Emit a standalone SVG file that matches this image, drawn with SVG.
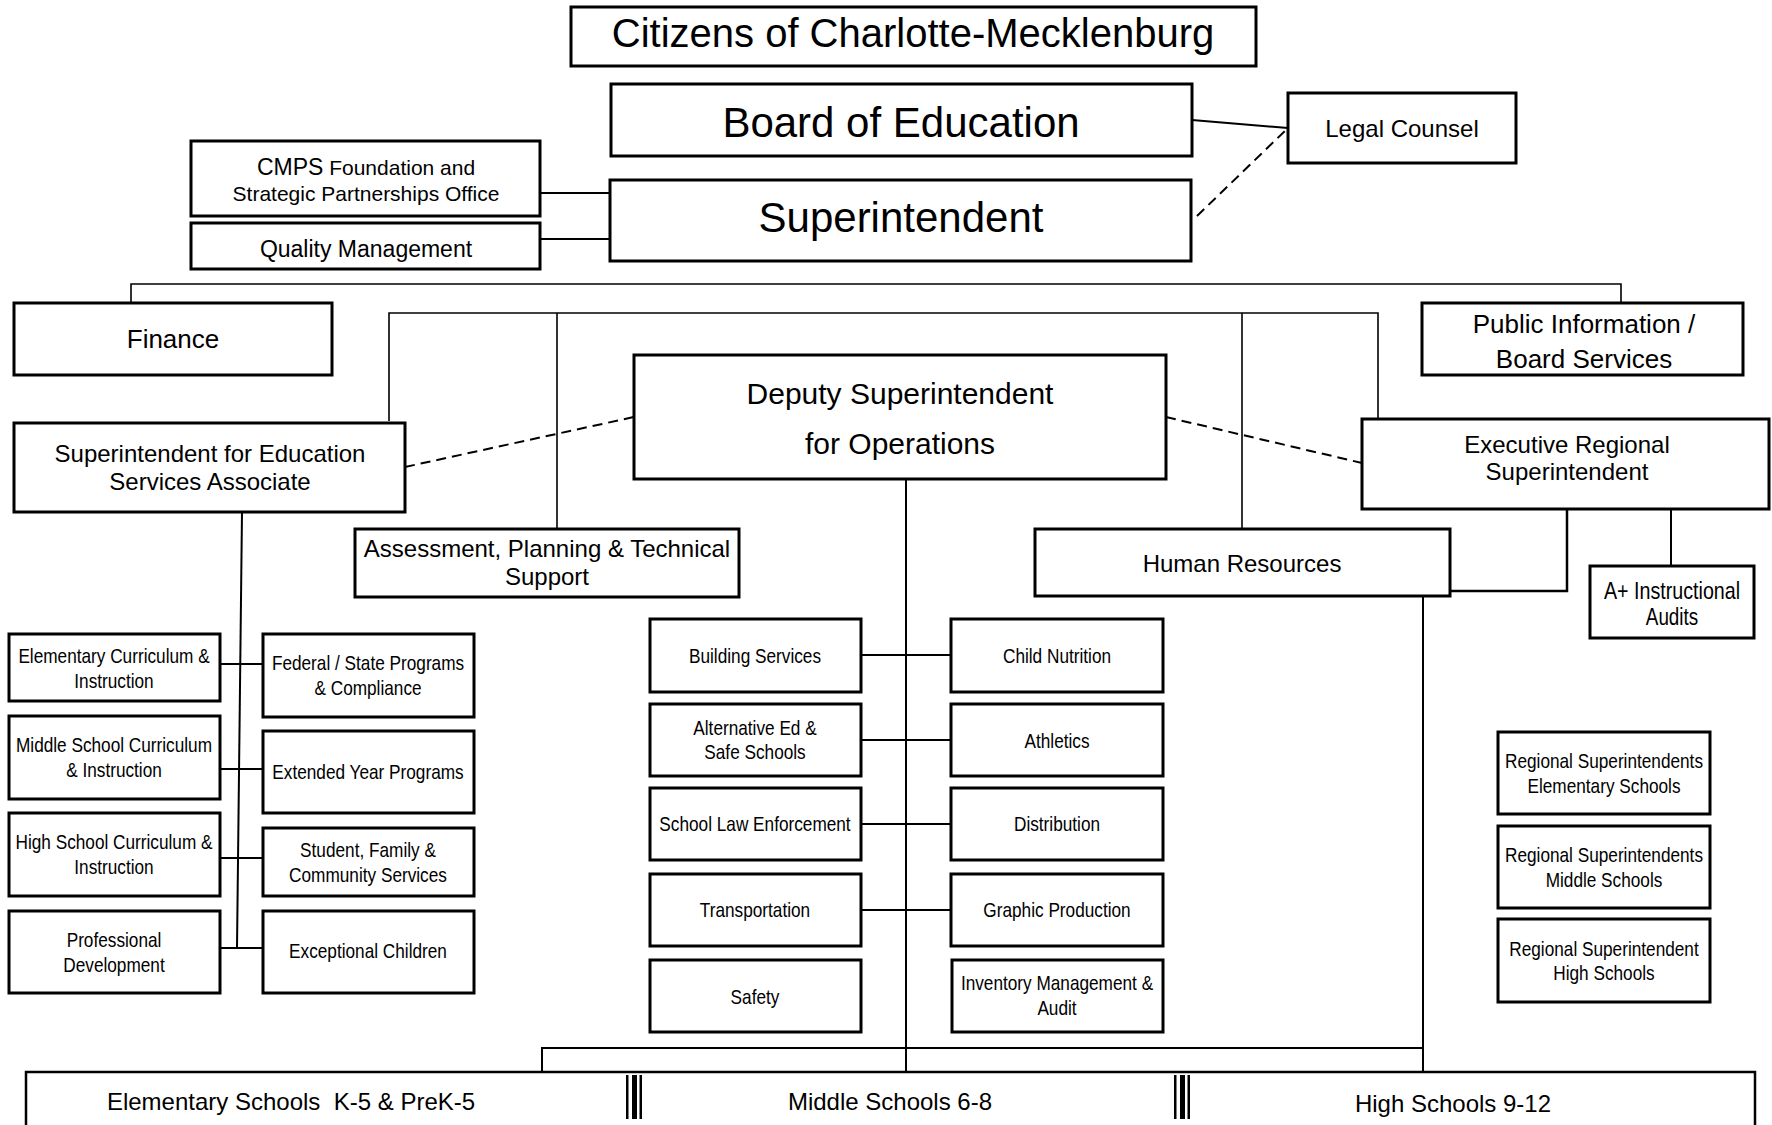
<svg xmlns="http://www.w3.org/2000/svg" width="1772" height="1125" viewBox="0 0 1772 1125">
<style>
.box{fill:#fff;stroke:#000;stroke-width:3}
.ln{stroke:#000;stroke-width:2;fill:none}
.th{stroke-width:1.6}
.dash{stroke-dasharray:10 6}
.t{font-family:"Liberation Sans",Arial,sans-serif;text-anchor:middle;fill:#000}
.n{font-size:21px}
.s24{font-size:24px}
.s26{font-size:26px}
</style>
<rect x="0" y="0" width="1772" height="1125" fill="#fff"/>
<g id="connectors">
<line class="ln" x1="1192" y1="120" x2="1288" y2="128"/>
<line class="ln dash" x1="1197" y1="216" x2="1288" y2="128"/>
<line class="ln" x1="540" y1="193" x2="610" y2="193"/>
<line class="ln" x1="540" y1="239" x2="610" y2="239"/>
<polyline class="ln th" points="131,303 131,284 1621,284 1621,303"/>
<polyline class="ln th" points="389,421 389,313 1378,313 1378,419"/>
<line class="ln th" x1="557" y1="313" x2="557" y2="529"/>
<line class="ln th" x1="1242" y1="313" x2="1242" y2="529"/>
<line class="ln dash" x1="405" y1="467" x2="634" y2="417"/>
<line class="ln dash" x1="1166" y1="417" x2="1362" y2="463"/>
<line class="ln" x1="242" y1="512" x2="237" y2="948"/>
<line class="ln" x1="220" y1="664" x2="263" y2="664"/>
<line class="ln" x1="220" y1="769" x2="263" y2="769"/>
<line class="ln" x1="220" y1="858" x2="263" y2="858"/>
<line class="ln" x1="220" y1="948" x2="263" y2="948"/>
<line class="ln" x1="906" y1="479" x2="906" y2="1075"/>
<line class="ln" x1="861" y1="655" x2="951" y2="655"/>
<line class="ln" x1="861" y1="740" x2="951" y2="740"/>
<line class="ln" x1="861" y1="824" x2="951" y2="824"/>
<line class="ln" x1="861" y1="910" x2="951" y2="910"/>
<polyline class="ln" style="stroke-width:2.5" points="1567,509 1567,591 1450,591"/>
<line class="ln" x1="1671" y1="509" x2="1671" y2="566"/>
<line class="ln" x1="1423" y1="596" x2="1423" y2="1077"/>
<polyline class="ln" points="542,1075 542,1048 1423,1048"/>
</g>
<g id="citizens"><rect class="box" x="571" y="7" width="685" height="59"/><text class="t" x="913" y="47" font-size="40">Citizens of Charlotte-Mecklenburg</text></g>
<g id="board"><rect class="box" x="611" y="84" width="581" height="72"/><text class="t" x="901" y="137" font-size="42">Board of Education</text></g>
<g id="superintendent"><rect class="box" x="610" y="180" width="581" height="81"/><text class="t" x="901" y="232" font-size="42">Superintendent</text></g>
<g id="legal"><rect class="box" x="1288" y="93" width="228" height="70"/><text class="t s24" x="1402" y="137">Legal Counsel</text></g>
<g id="cmps"><rect class="box" x="191" y="141" width="349" height="75"/><text class="t" x="366" y="175" font-size="21"><tspan font-size="23">CMPS</tspan> Foundation and</text><text class="t" x="366" y="201" font-size="21">Strategic Partnerships Office</text></g>
<g id="quality"><rect class="box" x="191" y="223" width="349" height="46"/><text class="t" x="366" y="257" font-size="23">Quality Management</text></g>
<g id="finance"><rect class="box" x="14" y="303" width="318" height="72"/><text class="t s26" x="173" y="348">Finance</text></g>
<g id="public-info"><rect class="box" x="1422" y="303" width="321" height="72"/><text class="t s26" x="1584" y="333">Public Information /</text><text class="t s26" x="1584" y="368">Board Services</text></g>
<g id="deputy"><rect class="box" x="634" y="355" width="532" height="124"/><text class="t" x="900" y="404" font-size="30">Deputy Superintendent</text><text class="t" x="900" y="454" font-size="30">for Operations</text></g>
<g id="sup-ed"><rect class="box" x="14" y="423" width="391" height="89"/><text class="t s24" x="210" y="462">Superintendent for Education</text><text class="t s24" x="210" y="490">Services Associate</text></g>
<g id="assessment"><rect class="box" x="355" y="529" width="384" height="68"/><text class="t s24" x="547" y="557">Assessment, Planning &amp; Technical</text><text class="t s24" x="547" y="585">Support</text></g>
<g id="hr"><rect class="box" x="1035" y="529" width="415" height="67"/><text class="t s24" x="1242" y="572">Human Resources</text></g>
<g id="exec-regional"><rect class="box" x="1362" y="419" width="407" height="90"/><text class="t s24" x="1567" y="453">Executive Regional</text><text class="t s24" x="1567" y="480">Superintendent</text></g>
<g id="aplus"><rect class="box" x="1590" y="566" width="164" height="72"/><text class="t" font-size="24" transform="translate(1672,599) scale(0.82,1)">A+ Instructional</text><text class="t" font-size="23" transform="translate(1672,625) scale(0.82,1)">Audits</text></g>
<g id="elem-ci"><rect class="box" x="9" y="634" width="211" height="67"/><text class="t n" transform="translate(114,663) scale(0.82,1)">Elementary Curriculum &amp;</text><text class="t n" transform="translate(114,688) scale(0.82,1)">Instruction</text></g>
<g id="middle-ci"><rect class="box" x="9" y="716" width="211" height="83"/><text class="t n" transform="translate(114,752) scale(0.82,1)">Middle School Curriculum</text><text class="t n" transform="translate(114,777) scale(0.82,1)">&amp; Instruction</text></g>
<g id="high-ci"><rect class="box" x="9" y="813" width="211" height="83"/><text class="t n" transform="translate(114,849) scale(0.82,1)">High School Curriculum &amp;</text><text class="t n" transform="translate(114,874) scale(0.82,1)">Instruction</text></g>
<g id="prof-dev"><rect class="box" x="9" y="911" width="211" height="82"/><text class="t n" transform="translate(114,947) scale(0.82,1)">Professional</text><text class="t n" transform="translate(114,972) scale(0.82,1)">Development</text></g>
<g id="federal"><rect class="box" x="263" y="634" width="211" height="83"/><text class="t n" transform="translate(368,670) scale(0.82,1)">Federal / State Programs</text><text class="t n" transform="translate(368,695) scale(0.82,1)">&amp; Compliance</text></g>
<g id="extended"><rect class="box" x="263" y="731" width="211" height="82"/><text class="t n" transform="translate(368,779) scale(0.82,1)">Extended Year Programs</text></g>
<g id="student"><rect class="box" x="263" y="828" width="211" height="68"/><text class="t n" transform="translate(368,857) scale(0.82,1)">Student, Family &amp;</text><text class="t n" transform="translate(368,882) scale(0.82,1)">Community Services</text></g>
<g id="exceptional"><rect class="box" x="263" y="911" width="211" height="82"/><text class="t n" transform="translate(368,958) scale(0.82,1)">Exceptional Children</text></g>
<g id="building"><rect class="box" x="650" y="619" width="211" height="73"/><text class="t n" transform="translate(755,663) scale(0.82,1)">Building Services</text></g>
<g id="alternative"><rect class="box" x="650" y="704" width="211" height="72"/><text class="t n" transform="translate(755,735) scale(0.82,1)">Alternative Ed &amp;</text><text class="t n" transform="translate(755,759) scale(0.82,1)">Safe Schools</text></g>
<g id="law"><rect class="box" x="650" y="788" width="211" height="72"/><text class="t n" transform="translate(755,831) scale(0.82,1)">School Law Enforcement</text></g>
<g id="transportation"><rect class="box" x="650" y="874" width="211" height="72"/><text class="t n" transform="translate(755,917) scale(0.82,1)">Transportation</text></g>
<g id="safety"><rect class="box" x="650" y="960" width="211" height="72"/><text class="t n" transform="translate(755,1004) scale(0.82,1)">Safety</text></g>
<g id="nutrition"><rect class="box" x="951" y="619" width="212" height="73"/><text class="t n" transform="translate(1057,663) scale(0.82,1)">Child Nutrition</text></g>
<g id="athletics"><rect class="box" x="951" y="704" width="212" height="72"/><text class="t n" transform="translate(1057,748) scale(0.82,1)">Athletics</text></g>
<g id="distribution"><rect class="box" x="951" y="788" width="212" height="72"/><text class="t n" transform="translate(1057,831) scale(0.82,1)">Distribution</text></g>
<g id="graphic"><rect class="box" x="951" y="874" width="212" height="72"/><text class="t n" transform="translate(1057,917) scale(0.82,1)">Graphic Production</text></g>
<g id="inventory"><rect class="box" x="952" y="960" width="211" height="72"/><text class="t n" transform="translate(1057,990) scale(0.82,1)">Inventory Management &amp;</text><text class="t n" transform="translate(1057,1015) scale(0.82,1)">Audit</text></g>
<g id="reg-elem"><rect class="box" x="1498" y="732" width="212" height="82"/><text class="t n" transform="translate(1604,768) scale(0.82,1)">Regional Superintendents</text><text class="t n" transform="translate(1604,793) scale(0.82,1)">Elementary Schools</text></g>
<g id="reg-middle"><rect class="box" x="1498" y="826" width="212" height="82"/><text class="t n" transform="translate(1604,862) scale(0.82,1)">Regional Superintendents</text><text class="t n" transform="translate(1604,887) scale(0.82,1)">Middle Schools</text></g>
<g id="reg-high"><rect class="box" x="1498" y="919" width="212" height="83"/><text class="t n" transform="translate(1604,956) scale(0.82,1)">Regional Superintendent</text><text class="t n" transform="translate(1604,980) scale(0.82,1)">High Schools</text></g>
<g id="schools">
<rect x="26" y="1072" width="1729" height="80" fill="#fff" stroke="#000" stroke-width="2.5"/>
<rect x="626" y="1075" width="2.5" height="44"/><rect x="632" y="1075" width="5" height="44"/><rect x="639.5" y="1075" width="2.5" height="44"/>
<rect x="1174" y="1075" width="2.5" height="44"/><rect x="1180" y="1075" width="5" height="44"/><rect x="1187.5" y="1075" width="2.5" height="44"/>
<text class="t s24" x="291" y="1110" xml:space="preserve">Elementary Schools  K-5 &amp; PreK-5</text>
<text class="t s24" x="890" y="1110">Middle Schools 6-8</text>
<text class="t s24" x="1453" y="1112">High Schools 9-12</text>
</g>
</svg>
